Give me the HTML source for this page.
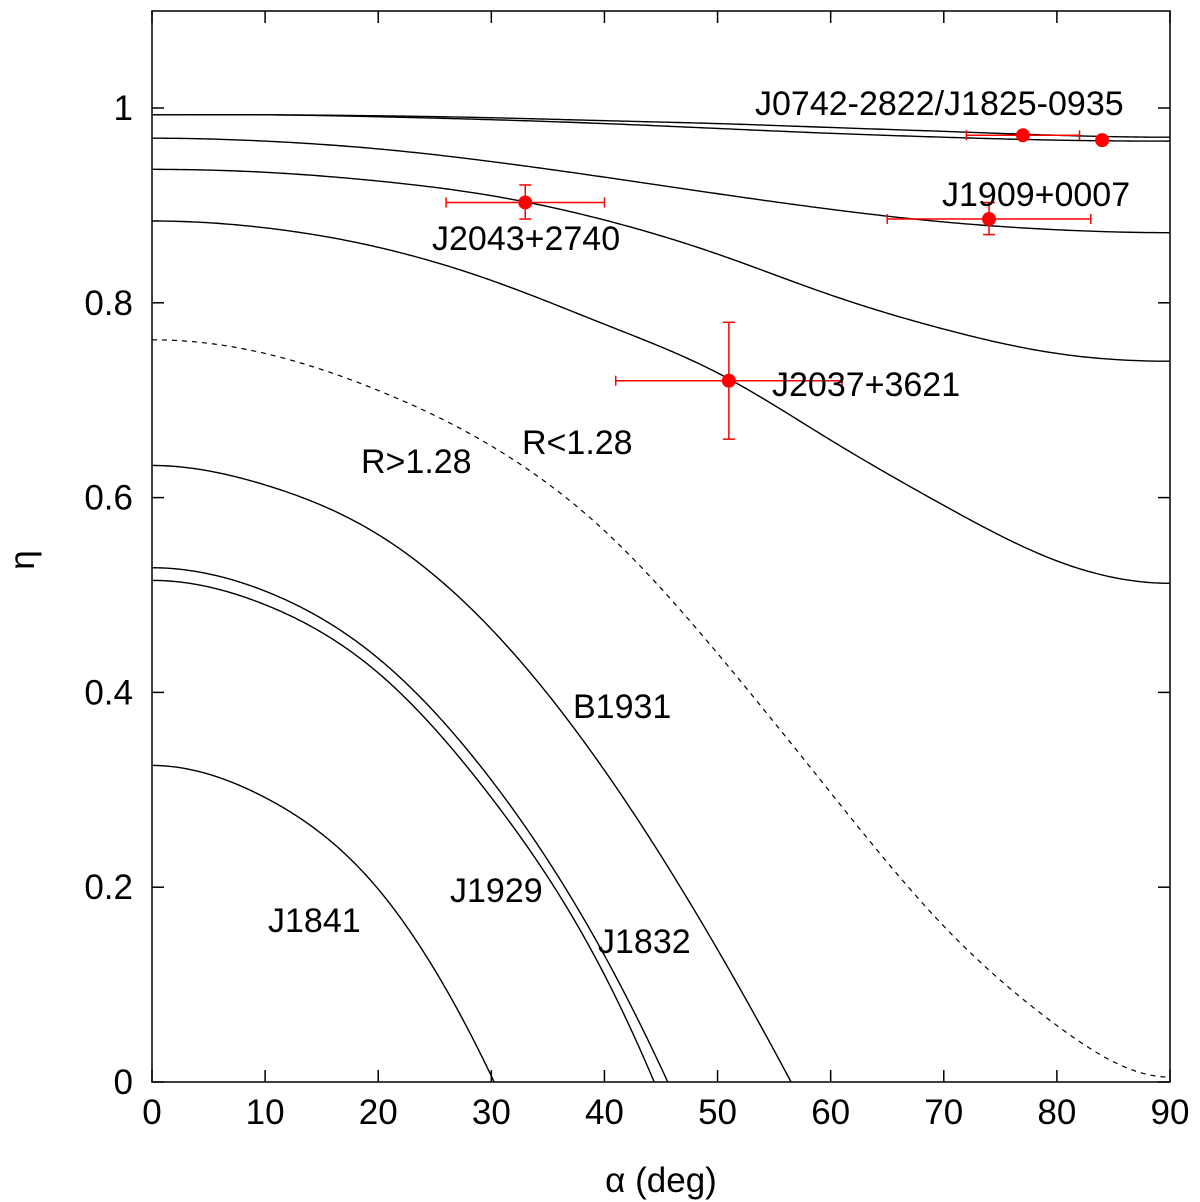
<!DOCTYPE html>
<html><head><meta charset="utf-8"><style>
body{margin:0;background:#fff}
svg{display:block;font-family:"Liberation Sans",sans-serif}
</style></head><body>
<svg id="c" width="1200" height="1202"></svg>
<script>
const xTicks=[0,10,20,30,40,50,60,70,80,90];
const yTicks=[0,0.2,0.4,0.6,0.8,1];
const yTickLabels=["0","0.2","0.4","0.6","0.8","1"];
const curveTop1A=[0,10,20,30,40,50,60,70,80,90];
const curveTop1=[0.993,0.993,0.992,0.990,0.987,0.984,0.980,0.976,0.972,0.970];
const curveTop2=[0.993,0.993,0.991,0.988,0.984,0.979,0.974,0.970,0.967,0.966];
const curve3=[0.969,0.966,0.958,0.945,0.929,0.912,0.896,0.883,0.875,0.872];
const curve4=[0.937,0.934,0.925,0.910,0.885,0.850,0.808,0.773,0.748,0.740];
const curve5=[0.884,0.877,0.857,0.823,0.778,0.728,0.659,0.592,0.535,0.512];
const dashedCurve=[0.762,0.748,0.710,0.653,0.566,0.440,0.297,0.160,0.058,0.005];
const b1931A=[0,10,20,30,40,50,56.5];
const b1931=[0.633,0.613,0.562,0.465,0.320,0.136,0];
const j1929A=[0,10,20,30,40,45.6];
const j1929=[0.528,0.504,0.435,0.310,0.130,0];
const j1832A=[0,10,20,30,40,44.4];
const j1832=[0.515,0.490,0.420,0.292,0.110,0];
const j1841A=[0,10,20,25,30.25];
const j1841=[0.325,0.292,0.198,0.115,0];
const ptNames=["J0742","J1825","J1909","J2043","J2037"];
const ptA=[77,84,74,33,51];
const ptE=[0.972,0.967,0.886,0.903,0.720];
const ptAlo=[72,84,65,26,41];
const ptAhi=[82,84,83,40,61];
const ptElo=[0.972,0.967,0.870,0.886,0.660];
const ptEhi=[0.972,0.967,0.903,0.921,0.780];

const X0=152,X1=1170,Y0=1082,Y1=11;
const sx=a=>X0+a*(X1-X0)/90;
const sy=e=>Y0-e*974;
const NS="http://www.w3.org/2000/svg";
const svg=document.getElementById('c');
function mk(t,at,p){const e=document.createElementNS(NS,t);for(const k in at)e.setAttribute(k,at[k]);(p||svg).appendChild(e);return e;}
// cubic spline: zero slope at start; end either zero slope (flat) or parabolic runout
function spline(xs,ys,flatEnd){
  const n=xs.length, h=[];for(let i=0;i<n-1;i++)h.push(xs[i+1]-xs[i]);
  const a=new Array(n).fill(0),b=new Array(n).fill(0),c=new Array(n).fill(0),d=new Array(n).fill(0);
  b[0]=2*h[0];c[0]=h[0];d[0]=6*((ys[1]-ys[0])/h[0]);
  for(let i=1;i<n-1;i++){a[i]=h[i-1];b[i]=2*(h[i-1]+h[i]);c[i]=h[i];d[i]=6*((ys[i+1]-ys[i])/h[i]-(ys[i]-ys[i-1])/h[i-1]);}
  if(flatEnd){a[n-1]=h[n-2];b[n-1]=2*h[n-2];d[n-1]=6*(0-(ys[n-1]-ys[n-2])/h[n-2]);}
  else{a[n-1]=-1;b[n-1]=1;d[n-1]=0;}
  for(let i=1;i<n;i++){const m=a[i]/b[i-1];b[i]-=m*c[i-1];d[i]-=m*d[i-1];}
  const M=new Array(n);M[n-1]=d[n-1]/b[n-1];
  for(let i=n-2;i>=0;i--)M[i]=(d[i]-c[i]*M[i+1])/b[i];
  return x=>{let i=0;while(i<n-2&&x>xs[i+1])i++;const t1=xs[i+1]-x,t0=x-xs[i],hi=h[i];
    return M[i]*t1*t1*t1/(6*hi)+M[i+1]*t0*t0*t0/(6*hi)+(ys[i]/hi-M[i]*hi/6)*t1+(ys[i+1]/hi-M[i+1]*hi/6)*t0;};
}
function pathFor(xs,ys,flatEnd){
  const f=spline(xs,ys,flatEnd),x0=xs[0],x1=xs[xs.length-1];let d="";
  for(let k=0;k<=300;k++){const x=x0+(x1-x0)*k/300;d+=(k?"L":"M")+sx(x).toFixed(2)+","+sy(f(x)).toFixed(2);}
  return d;
}
const curves=[[curveTop1A,curveTop1,'curve-top-1',1],[curveTop1A,curveTop2,'curve-top-2',1],[curveTop1A,curve3,'curve-3',1],[curveTop1A,curve4,'curve-4',1],[curveTop1A,curve5,'curve-5',1],[b1931A,b1931,'curve-b1931',0],[j1929A,j1929,'curve-j1929',0],[j1832A,j1832,'curve-j1832',0],[j1841A,j1841,'curve-j1841',0]];
for(const c of curves){
  const el=mk('path',{d:pathFor(c[0],c[1],c[3]),fill:'none',stroke:'#000','stroke-width':1.4});
  
  
}
const dl=mk('path',{d:pathFor(curveTop1A,dashedCurve,1),fill:'none',stroke:'#000','stroke-width':1.2,'stroke-dasharray':'5,5'});



const fr=mk('rect',{x:X0,y:Y1,width:X1-X0,height:Y0-Y1,fill:'none',stroke:'#000','stroke-width':1.5});


xTicks.forEach(t=>{
  const x=sx(t);
  mk('line',{x1:x,y1:Y0,x2:x,y2:Y0-12,stroke:'#000','stroke-width':1.5});
  mk('line',{x1:x,y1:Y1,x2:x,y2:Y1+12,stroke:'#000','stroke-width':1.5});
  const tx=mk('text',{x:x,y:1124,'font-size':35,'text-anchor':'middle'});tx.textContent=t;
  
  
});
yTicks.forEach((t,i)=>{
  const y=sy(t);
  mk('line',{x1:X0,y1:y,x2:X0+12,y2:y,stroke:'#000','stroke-width':1.5});
  mk('line',{x1:X1,y1:y,x2:X1-12,y2:y,stroke:'#000','stroke-width':1.5});
  const tx=mk('text',{x:133,y:y+12,'font-size':35,'text-anchor':'end'});tx.textContent=yTickLabels[i];
  
  
});
const xt=mk('text',{x:661,y:1192,'font-size':35,'text-anchor':'middle'});xt.textContent='α (deg)';


const yt=mk('text',{x:34,y:560,'font-size':35,'text-anchor':'middle',transform:'rotate(-90 34 560)'});yt.textContent='η';



ptA.forEach((a,i)=>{
  const g=mk('g',{stroke:'#f00','stroke-width':1.5});
  
  
  const y=sy(ptE[i]);
  if(ptAhi[i]>ptAlo[i]){
    mk('line',{x1:sx(ptAlo[i]),y1:y,x2:sx(ptAhi[i]),y2:y},g);
    mk('line',{x1:sx(ptAlo[i]),y1:y-5,x2:sx(ptAlo[i]),y2:y+5},g);
    mk('line',{x1:sx(ptAhi[i]),y1:y-5,x2:sx(ptAhi[i]),y2:y+5},g);
  }
  if(ptEhi[i]>ptElo[i]){
    mk('line',{x1:sx(a),y1:sy(ptElo[i]),x2:sx(a),y2:sy(ptEhi[i])},g);
    mk('line',{x1:sx(a)-6,y1:sy(ptElo[i]),x2:sx(a)+6,y2:sy(ptElo[i])},g);
    mk('line',{x1:sx(a)-6,y1:sy(ptEhi[i]),x2:sx(a)+6,y2:sy(ptEhi[i])},g);
  }
  mk('circle',{cx:sx(a),cy:y,r:7,fill:'#f00',stroke:'none'},g);
});

const labels=[["J0742-2822/J1825-0935",755,115],["J1909+0007",942,206],["J2043+2740",432,250],["J2037+3621",772,396],["R<1.28",522,454],["R>1.28",361,473],["B1931",573,718],["J1929",450,902],["J1832",598,953],["J1841",268,932]];
labels.forEach(l=>{
  const t=mk('text',{x:l[1],y:l[2],'font-size':34});t.textContent=l[0];
  
  
});
</script>
</body></html>
